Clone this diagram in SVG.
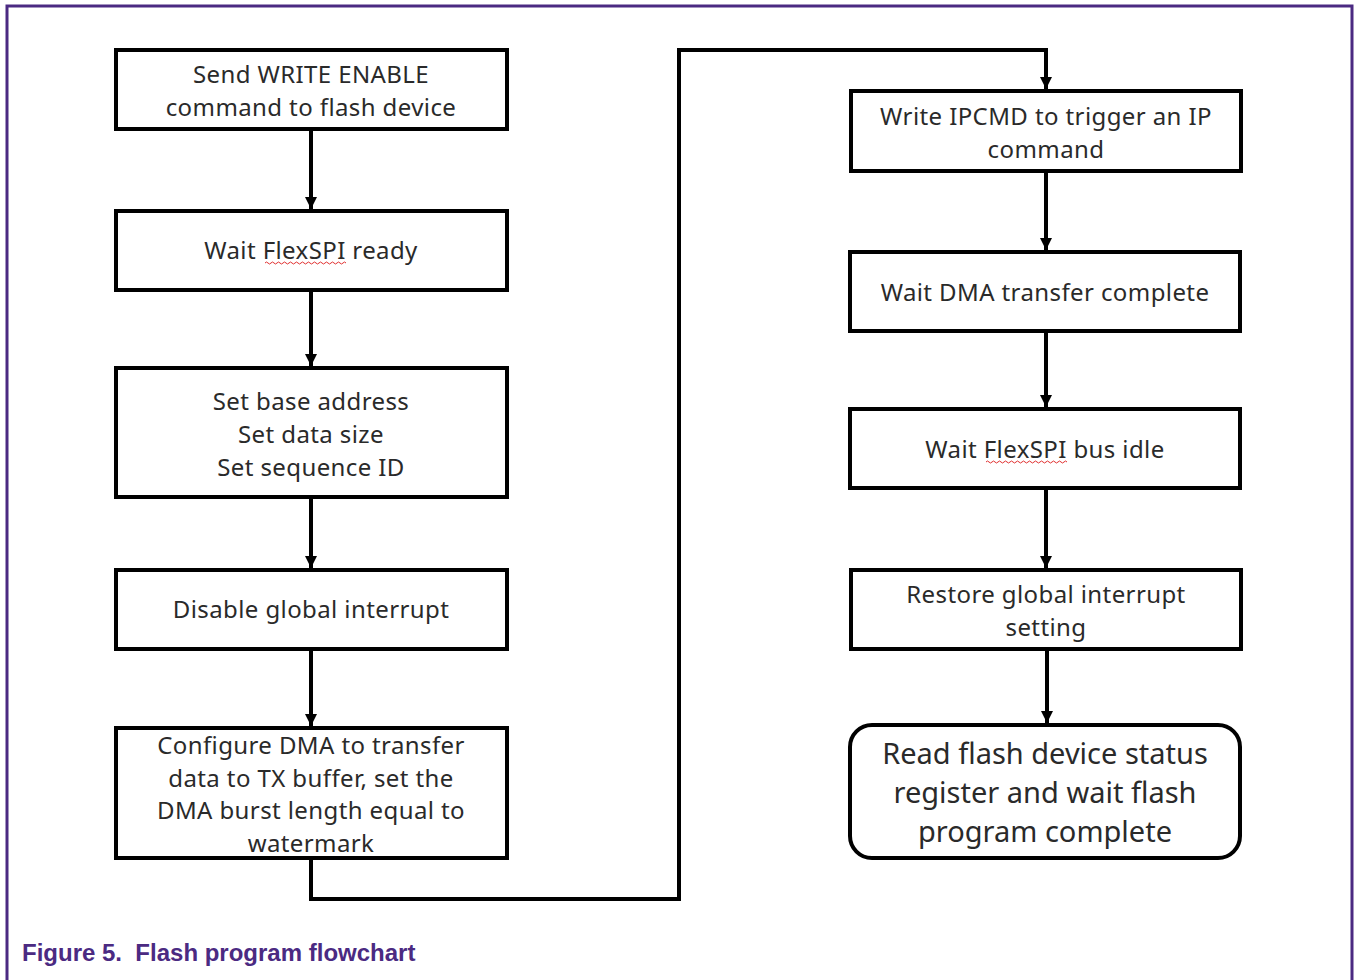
<svg xmlns="http://www.w3.org/2000/svg" width="1354" height="980" viewBox="0 0 1354 980">
<style>
.box{fill:#fff;stroke:#000;stroke-width:4}
.t{font-family:"Noto Sans","Open Sans",sans-serif;font-size:24px;letter-spacing:0.4px;fill:#2a2a2a;text-anchor:middle}
.tb{font-family:"Noto Sans","Open Sans",sans-serif;font-size:29px;fill:#2a2a2a;text-anchor:middle}
.c{fill:none;stroke:#000;stroke-width:4}
.sq{fill:none;stroke:#e03030;stroke-width:1}
.cap{font-family:"Liberation Sans",Arial,sans-serif;font-size:24px;font-weight:bold;fill:#4b2a82}
</style>
<defs>
<marker id="ah" markerWidth="12" markerHeight="12" refX="12" refY="6" orient="auto" markerUnits="userSpaceOnUse" viewBox="0 0 12 12">
<path d="M0,0 L12,6 L0,12 z" fill="#000"/>
</marker>
</defs>
<rect width="1354" height="980" fill="#fff"/>
<path d="M7,980 V6 H1352 V980" fill="none" stroke="#4b2a82" stroke-width="3"/>
<g id="connectors">
<path class="c" d="M311,129 V209" marker-end="url(#ah)"/>
<path class="c" d="M311,290 V366" marker-end="url(#ah)"/>
<path class="c" d="M311,497 V568" marker-end="url(#ah)"/>
<path class="c" d="M311,649 V726" marker-end="url(#ah)"/>
<path class="c" d="M311,858 V899 H679 V50 H1046 V89" marker-end="url(#ah)"/>
<path class="c" d="M1046,171 V250" marker-end="url(#ah)"/>
<path class="c" d="M1046,331 V407" marker-end="url(#ah)"/>
<path class="c" d="M1046,488 V568" marker-end="url(#ah)"/>
<path class="c" d="M1047,649 V723" marker-end="url(#ah)"/>
</g>
<g id="n1"><rect class="box" x="116" y="50" width="391" height="79"/>
<text class="t" x="311" y="83">Send WRITE ENABLE</text><text class="t" x="311" y="116">command to flash device</text></g>
<g id="n2"><rect class="box" x="116" y="211" width="391" height="79"/>
<text class="t" x="311" y="259">Wait FlexSPI ready</text>
<path class="sq" d="M265,263 q1.5,-2 3,0 t3,0 t3,0 t3,0 t3,0 t3,0 t3,0 t3,0 t3,0 t3,0 t3,0 t3,0 t3,0 t3,0 t3,0 t3,0 t3,0 t3,0 t3,0 t3,0 t3,0 t3,0 t3,0 t3,0 t3,0 t3,0 t3,0"/></g>
<g id="n3"><rect class="box" x="116" y="368" width="391" height="129"/>
<text class="t" x="311" y="410">Set base address</text><text class="t" x="311" y="443">Set data size</text><text class="t" x="311" y="476">Set sequence ID</text></g>
<g id="n4"><rect class="box" x="116" y="570" width="391" height="79"/>
<text class="t" x="311" y="618">Disable global interrupt</text></g>
<g id="n5"><rect class="box" x="116" y="728" width="391" height="130"/>
<text class="t" x="311" y="754">Configure DMA to transfer</text><text class="t" x="311" y="787">data to TX buffer, set the</text><text class="t" x="311" y="819">DMA burst length equal to</text><text class="t" x="311" y="852">watermark</text></g>
<g id="r1"><rect class="box" x="851" y="91" width="390" height="80"/>
<text class="t" x="1046" y="125">Write IPCMD to trigger an IP</text><text class="t" x="1046" y="158">command</text></g>
<g id="r2"><rect class="box" x="850" y="252" width="390" height="79"/>
<text class="t" x="1045" y="301">Wait DMA transfer complete</text></g>
<g id="r3"><rect class="box" x="850" y="409" width="390" height="79"/>
<text class="t" x="1045" y="458">Wait FlexSPI bus idle</text>
<path class="sq" d="M986,462 q1.5,-2 3,0 t3,0 t3,0 t3,0 t3,0 t3,0 t3,0 t3,0 t3,0 t3,0 t3,0 t3,0 t3,0 t3,0 t3,0 t3,0 t3,0 t3,0 t3,0 t3,0 t3,0 t3,0 t3,0 t3,0 t3,0 t3,0 t3,0"/></g>
<g id="r4"><rect class="box" x="851" y="570" width="390" height="79"/>
<text class="t" x="1046" y="603">Restore global interrupt</text><text class="t" x="1046" y="636">setting</text></g>
<g id="r5"><rect class="box" x="850" y="725" width="390" height="133" rx="22" ry="22"/>
<text class="tb" x="1045" y="764">Read flash device status</text><text class="tb" x="1045" y="803">register and wait flash</text><text class="tb" x="1045" y="842">program complete</text></g>
<text class="cap" x="22" y="961" xml:space="preserve">Figure 5.  Flash program flowchart</text>
</svg>
